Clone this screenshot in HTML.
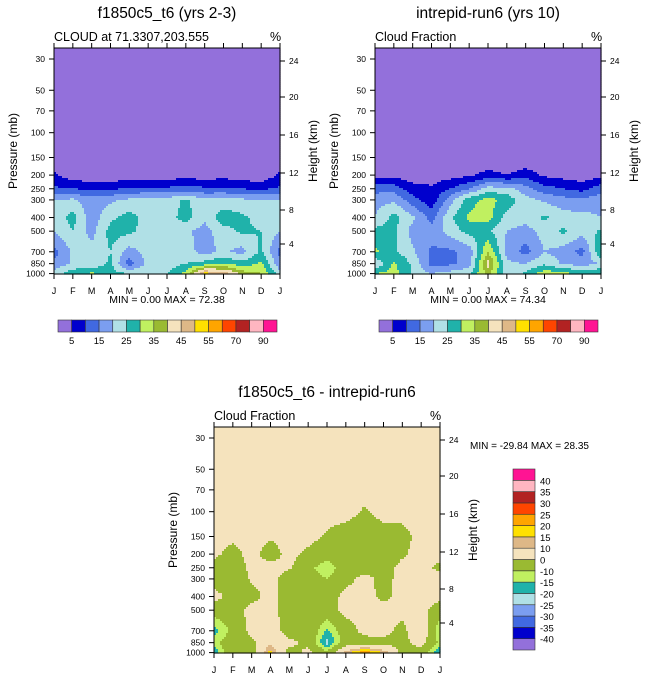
<!DOCTYPE html>
<html><head><meta charset="utf-8">
<style>
body{margin:0;background:#fff;}
svg{display:block;font-family:"Liberation Sans",Helvetica,Arial,sans-serif;}
</style></head>
<body>
<svg id="fig" width="647" height="676" viewBox="0 0 647 676"></svg>
<script>
const levels=[30,50,70,100,150,200,250,300,400,500,700,850,1000];
const months=["J","F","M","A","M","J","J","A","S","O","N","D","J"];
const pTicks=["30","50","70","100","150","200","250","300","400","500","700","850","1000"];
const hTicks=["24","20","16","12","8","4"];
const contourBounds=[5,10,15,20,25,30,35,40,45,50,55,60,70,80,90];
const diffBounds=[-40,-35,-30,-25,-20,-15,-10,0,10,15,20,25,30,35,40];
const palette=["#9370db","#0000cd","#4169e1","#7b9ef0","#b0e0e6","#20b2aa","#c0f060","#9aba32","#f5e3bd","#deb887","#ffe000","#ffa500","#ff4500","#b22222","#ffb6c1","#ff1493"];
const gridA=[
[0,0,0,0,0,0,0,0,0,0,0,0,0],
[0,0,0,0,0,0,0,0,0,0,0,0,0],
[0,0,0,0,0,0,0,0,0,0,0,0,0],
[0,0,0,0,0,0,0,0,0,0,0,0,0],
[0,0,0,0,0,0,0,0,0,0,0,0,0],
[6,2,1,1,2,2,2,3,2,3,2,1,6],
[11,10,9,9,11,11,11,12,11,11,10,9,11],
[20,21,17,19,21,22,22,26,21,22,21,20,20],
[22,27,17,24,27,23,23,27,21,28,26,23,22],
[20,25,18,27,26,23,23,21,18,23,26,25,20],
[13,21,22,25,18,22,22,22,18,21,18,26,13],
[16,21,21,26,12,22,22,25,27,30,27,31,16],
[22,28,31,27,25,24,25,32,52,48,38,35,22]];
const gridB=[
[0,0,0,0,0,0,0,0,0,0,0,0,0],
[0,0,0,0,0,0,0,0,0,0,0,0,0],
[0,0,0,0,0,0,0,0,0,0,0,0,0],
[0,0,0,0,0,0,0,0,0,0,0,0,0],
[0,0,0,0,0,0,0,0,0,0,0,0,0],
[3,3,2,2,3,4,7,5,8,4,3,2,3],
[13,13,7,6,10,15,22,22,17,12,10,8,13],
[18,19,12,7,18,28,32,28,22,19,17,16,18],
[20,27,21,13,24,31,32,23,22,26,22,22,20],
[27,26,18,17,22,27,26,20,18,22,26,22,26],
[31,26,21,14,14,17,35,18,13,20,18,13,30],
[20,31,24,13,14,17,42,21,20,24,19,18,20],
[30,32,24,20,22,24,37,22,26,33,32,28,30]];
const gridD=[
[3,3,3,3,3,3,3,3,3,3,3,3,3],
[3,3,3,3,3,3,3,3,3,3,3,3,3],
[3,3,3,3,3,3,3,3,3,3,3,3,3],
[3,3,3,3,3,3,3,3,-1,3,3,3,3],
[3,2,3,1,3,3,-1,-4,-5,-4,-3,3,3],
[2,-3,3,-4,3,-2,-6,-5,-5,-4,-1,3,3],
[-4,-5,2,3,1,-8,-14,-6,-4,-3,2,3,-2],
[-4,-5,1,3,-5,-6,-10,-3,3,-3,3,3,3],
[3,-3,-3,3,-5,-5,-5,3,3,-2,3,3,3],
[-6,-4,3,3,-5,-4,-5,3,3,3,3,3,-5],
[-18,-8,3,6,-5,-3,-16,-5,3,3,-3,9,-16],
[-12,-4,-2,8,3,-3,-22,-6,-4,-3,-3,4,-12],
[-20,-2,-4,18,-5,3,-8,12,25,14,-3,-4,-20]];

const NS="http://www.w3.org/2000/svg";
const svg=document.getElementById('fig');
function el(tag,attrs,parent){const e=document.createElementNS(NS,tag);for(const k in attrs)e.setAttribute(k,attrs[k]);(parent||svg).appendChild(e);return e;}
function txt(s,attrs,parent){const t=el('text',attrs,parent);t.textContent=s;return t;}
const W=226,H=226,P0=11,K=61.2;
const lnL=levels.map(Math.log);
function yOfP(p){return P0+K*Math.log(p/30);}
function binIdx(v,b){let i=0;while(i<b.length&&v>=b[i])i++;return i;}
function valAt(grid,px,py){
  let m=px/W*12;let mi=Math.min(11,Math.floor(m));let fx=m-mi;
  let lp=Math.log(30)+(py-P0)/K;lp=Math.max(lnL[0],Math.min(lnL[12],lp));
  let li=0;while(li<11&&lp>lnL[li+1])li++;
  let fy=(lp-lnL[li])/(lnL[li+1]-lnL[li]);
  const a=grid[li][mi],b=grid[li][mi+1],c=grid[li+1][mi],d=grid[li+1][mi+1];
  return (a*(1-fx)+b*fx)*(1-fy)+(c*(1-fx)+d*fx)*fy;
}
function panel(name,ox,oy,grid,bounds,sub,title,titleX,titleY){
  const g=el('g',{transform:`translate(${ox},${oy})`});
  
  
  const cells=el('g',{},g);
  
  
  const S=2;
  for(let y=0;y<H;y+=S){
    let runStart=0,runC=-1;
    for(let x=0;x<=W;x+=S){
      const c=x<W?binIdx(valAt(grid,x+S/2,y+S/2),bounds):-2;
      if(c!==runC){
        if(runC>=0){const r=el('rect',{x:runStart,y:y,width:x-runStart+0.6,height:S+0.6,fill:palette[runC]},cells);
          
          }
        runStart=x;runC=c;
      }
    }
  }
  el('rect',{x:0,y:0,width:W,height:H,fill:'none',stroke:'#000','stroke-width':1},g);
  months.forEach((m,i)=>{const x=i*W/12;
    el('line',{x1:x,y1:H,x2:x,y2:H+5,stroke:'#000'},g);
    el('line',{x1:x,y1:0,x2:x,y2:-5,stroke:'#000'},g);
    const t=txt(m,{x:x,y:H+20,'font-size':9,'text-anchor':'middle'},g);
    
    });
  levels.forEach((p,i)=>{const y=yOfP(p);
    el('line',{x1:0,y1:y,x2:-5,y2:y,stroke:'#000'},g);
    const t=txt(pTicks[i],{x:-9,y:y+3,'font-size':8.5,'text-anchor':'end'},g);
    
    });
  const hy=[13,49,87,125,162,196];
  hTicks.forEach((h,i)=>{const y=hy[i];
    el('line',{x1:W,y1:y,x2:W+5,y2:y,stroke:'#000'},g);
    const t=txt(h,{x:W+9,y:y+3,'font-size':8.5},g);
    
    });
  const yt=txt('Pressure (mb)',{x:0,y:0,'font-size':12,'text-anchor':'middle',transform:`translate(-37,${H/2-10}) rotate(-90)`},g);
  
  const ht=txt('Height (km)',{x:0,y:0,'font-size':12,'text-anchor':'middle',transform:`translate(${W+37},${H/2-10}) rotate(-90)`},g);
  
  const st=txt(sub,{x:0,y:-7,'font-size':12.5},g);
  
  const pc=txt('%',{x:W-10,y:-7,'font-size':12.5},g);
  
  const tt=txt(title,{x:titleX,y:titleY,'font-size':15.5,'text-anchor':'middle'});
  
  return g;
}
function hbar(name,x0,y0){
  const g=el('g',{});
  
  const bw=219/16;
  palette.forEach((c,i)=>{const r=el('rect',{x:x0+i*bw,y:y0,width:bw,height:12,fill:c,stroke:'#333','stroke-width':0.6},g);
    });
  contourBounds.forEach((b,i)=>{if(i%2===0){const t=txt(String(b),{x:x0+(i+1)*bw,y:y0+24,'font-size':9.5,'text-anchor':'middle'},g);
    }});
}
panel('panel-f1850c5',54,48,gridA,contourBounds,'CLOUD at 71.3307,203.555','f1850c5_t6 (yrs 2-3)',167,18);
panel('panel-intrepid',375,48,gridB,contourBounds,'Cloud Fraction','intrepid-run6 (yrs 10)',488,18);
panel('panel-difference',214,427,gridD,diffBounds,'Cloud Fraction','f1850c5_t6 - intrepid-run6',327,397);
let m1=txt('MIN =   0.00 MAX =  72.38',{x:167,y:303,'font-size':10.5,'text-anchor':'middle'});

let m2=txt('MIN =   0.00 MAX =  74.34',{x:488,y:303,'font-size':10.5,'text-anchor':'middle'});

let m3=txt('MIN = -29.84 MAX =  28.35',{x:470,y:449,'font-size':10});

hbar('colorbar-left',58,320);
hbar('colorbar-right',379,320);
(function(){
  const g=el('g',{});
  
  const x0=513,y0=469,bh=181/16;
  palette.forEach((c,i)=>{const r=el('rect',{x:x0,y:y0+(15-i)*bh,width:22,height:bh,fill:c,stroke:'#333','stroke-width':0.6},g);
    });
  diffBounds.forEach((b,i)=>{const t=txt(String(b),{x:x0+27,y:y0+(15-i)*bh+4,'font-size':9.5},g);
    });
})();
</script>
</body></html>
